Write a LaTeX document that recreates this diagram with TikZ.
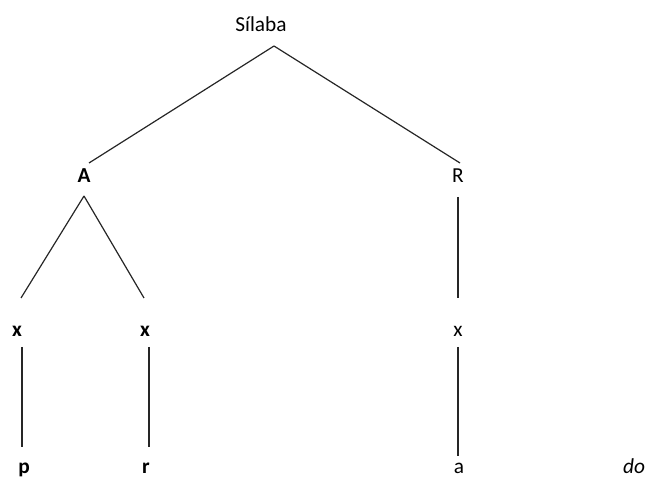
\documentclass[tikz,border=0pt]{standalone}
\usepackage{fontspec}
\setmainfont{Carlito}
\begin{document}
\begin{tikzpicture}[x=0.75pt,y=-0.75pt]
\tikzset{every node/.style={inner sep=0pt, anchor=base, font=\fontsize{16}{19}\selectfont}}
\tikzset{branch/.style={draw=black!85, line width=0.9pt}}
\useasboundingbox (0,0) rectangle (650,495);
% labels
\node (sil) at (261,32) {Sílaba};
\node (A) at (84,183) {\textbf{A}};
\node (R) at (458,183) {R};
\node (xa) at (17,337) {\textbf{x}};
\node (xb) at (145,337) {\textbf{x}};
\node (xc) at (458,337) {x};
\node (p) at (24,473) {\textbf{p}};
\node (r) at (146,473) {\textbf{r}};
\node (a) at (459,473) {a};
\node (do) at (634,473) {\textit{do}};
% branches
\draw [branch] ([shift={(13,14)}]sil.base) -- ([shift={(5,-20)}]A.base);
\draw [branch] ([shift={(13,14)}]sil.base) -- ([shift={(2,-20)}]R.base);
\draw [branch] ([shift={(0,13)}]A.base) -- ([shift={(4,-39)}]xa.base);
\draw [branch] ([shift={(0,13)}]A.base) -- ([shift={(-1,-39)}]xb.base);
\draw [branch] ([shift={(0,14)}]R.base) -- ([shift={(0,-39)}]xc.base);
\draw [branch] ([shift={(5,10)}]xa.base) -- ([shift={(-2,-26)}]p.base);
\draw [branch] ([shift={(4,10)}]xb.base) -- ([shift={(3,-26)}]r.base);
\draw [branch] ([shift={(0,10)}]xc.base) -- ([shift={(-1,-17)}]a.base);
\end{tikzpicture}
\end{document}
